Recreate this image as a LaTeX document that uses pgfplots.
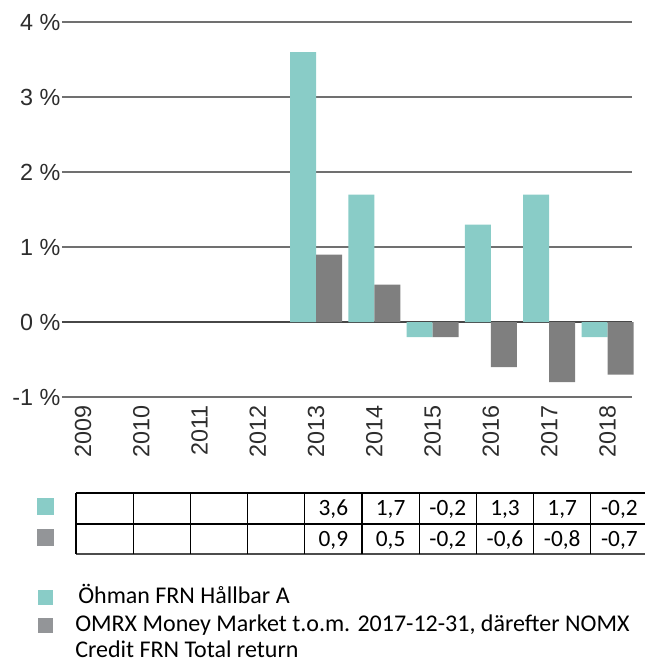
\documentclass[border=0pt]{standalone}
\usepackage{pgfplots}
\pgfplotsset{compat=1.18}
\usepackage{fontspec}
\setmainfont{Liberation Sans}
\newfontfamily\calibri{Carlito}
\definecolor{teal1}{RGB}{137,204,199}
\definecolor{gray1}{RGB}{127,127,127}
\definecolor{gray2}{RGB}{147,149,152}
\definecolor{gridc}{RGB}{112,112,112}
\definecolor{txt}{RGB}{45,45,45}
\begin{document}
\begin{tikzpicture}
\begin{axis}[
  at={(46.5pt,-297.75pt)}, anchor=south west,
  scale only axis, width=427.5pt, height=281.25pt,
  xmin=-0.36, xmax=9.42, ymin=-1, ymax=4,
  axis line style={draw=none},
  ytick={-1,0,1,2,3,4},
  yticklabels={-1 \%,0 \%,1 \%,2 \%,3 \%,4 \%},
  xtick={0,1,2,3,4,5,6,7,8,9},
  xticklabels={2009,2010,2011,2012,2013,2014,2015,2016,2017,2018},
  x tick label style={rotate=90, anchor=east, xshift=-5pt, inner sep=1pt},
  y tick label style={anchor=east, inner sep=1pt},
  major tick length=0pt,
  ymajorgrids, grid style={gridc, line width=0.9pt},
  ybar, bar width=19.5pt,
  clip=false,
  tick label style={font=\fontsize{17.5}{19}\selectfont, text=txt},
]
\draw[black!72, line width=1.3pt] (axis cs:-0.36,0) -- (axis cs:9.42,0);
\addplot[fill=teal1, draw=none, bar shift=-9.75pt] coordinates {(4,3.6) (5,1.7) (6,-0.2) (7,1.3) (8,1.7) (9,-0.2)};
\addplot[fill=gray1, draw=none, bar shift=9.75pt] coordinates {(4,0.9) (5,0.5) (6,-0.2) (7,-0.6) (8,-0.8) (9,-0.7)};
\end{axis}
\begin{scope}[x=0.75pt, y=-0.75pt]
  % table
  \draw[black, line width=0.8pt] (76,493) -- (648,493);
  \draw[black, line width=0.8pt] (76,524) -- (648,524);
  \draw[black!70, line width=1.5pt] (76,554) -- (648,554);
  \foreach \i in {0,...,9} {
    \draw[black, line width=0.8pt] ({76+57.2*\i},493) -- ({76+57.2*\i},554);
  }
  \foreach \v [count=\i from 4] in {3{,}6,1{,}7,-0{,}2,1{,}3,1{,}7,-0{,}2} {
    \node[font=\calibri\fontsize{17.5}{19}\selectfont, inner sep=0pt] at ({76+57.2*\i+28.6},509) {\v};
  }
  \foreach \v [count=\i from 4] in {0{,}9,0{,}5,-0{,}2,-0{,}6,-0{,}8,-0{,}7} {
    \node[font=\calibri\fontsize{17.5}{19}\selectfont, inner sep=0pt] at ({76+57.2*\i+28.6},540) {\v};
  }
  \fill[teal1] (37,498) rectangle (54,515);
  \fill[gray2] (37,529) rectangle (54,546);
  % legend
  \fill[teal1] (38,590) rectangle (53,605);
  \fill[gray2] (38,618) rectangle (53,633);
  \node[font=\calibri\fontsize{18}{20}\selectfont, anchor=base west, inner sep=0pt, text depth=0pt] at (78,603) {Öhman FRN Hållbar A};
  \node[font=\calibri\fontsize{18}{20}\selectfont, anchor=base west, inner sep=0pt, text depth=0pt] at (75,631) {OMRX Money Market t.o.m. 2017-12-31, därefter NOMX};
  \node[font=\calibri\fontsize{18}{20}\selectfont, anchor=base west, inner sep=0pt, text depth=0pt] at (75,657) {Credit FRN Total return};
  \pgfresetboundingbox
  \useasboundingbox (0,0) rectangle (645,662);
\end{scope}
\end{tikzpicture}
\end{document}
